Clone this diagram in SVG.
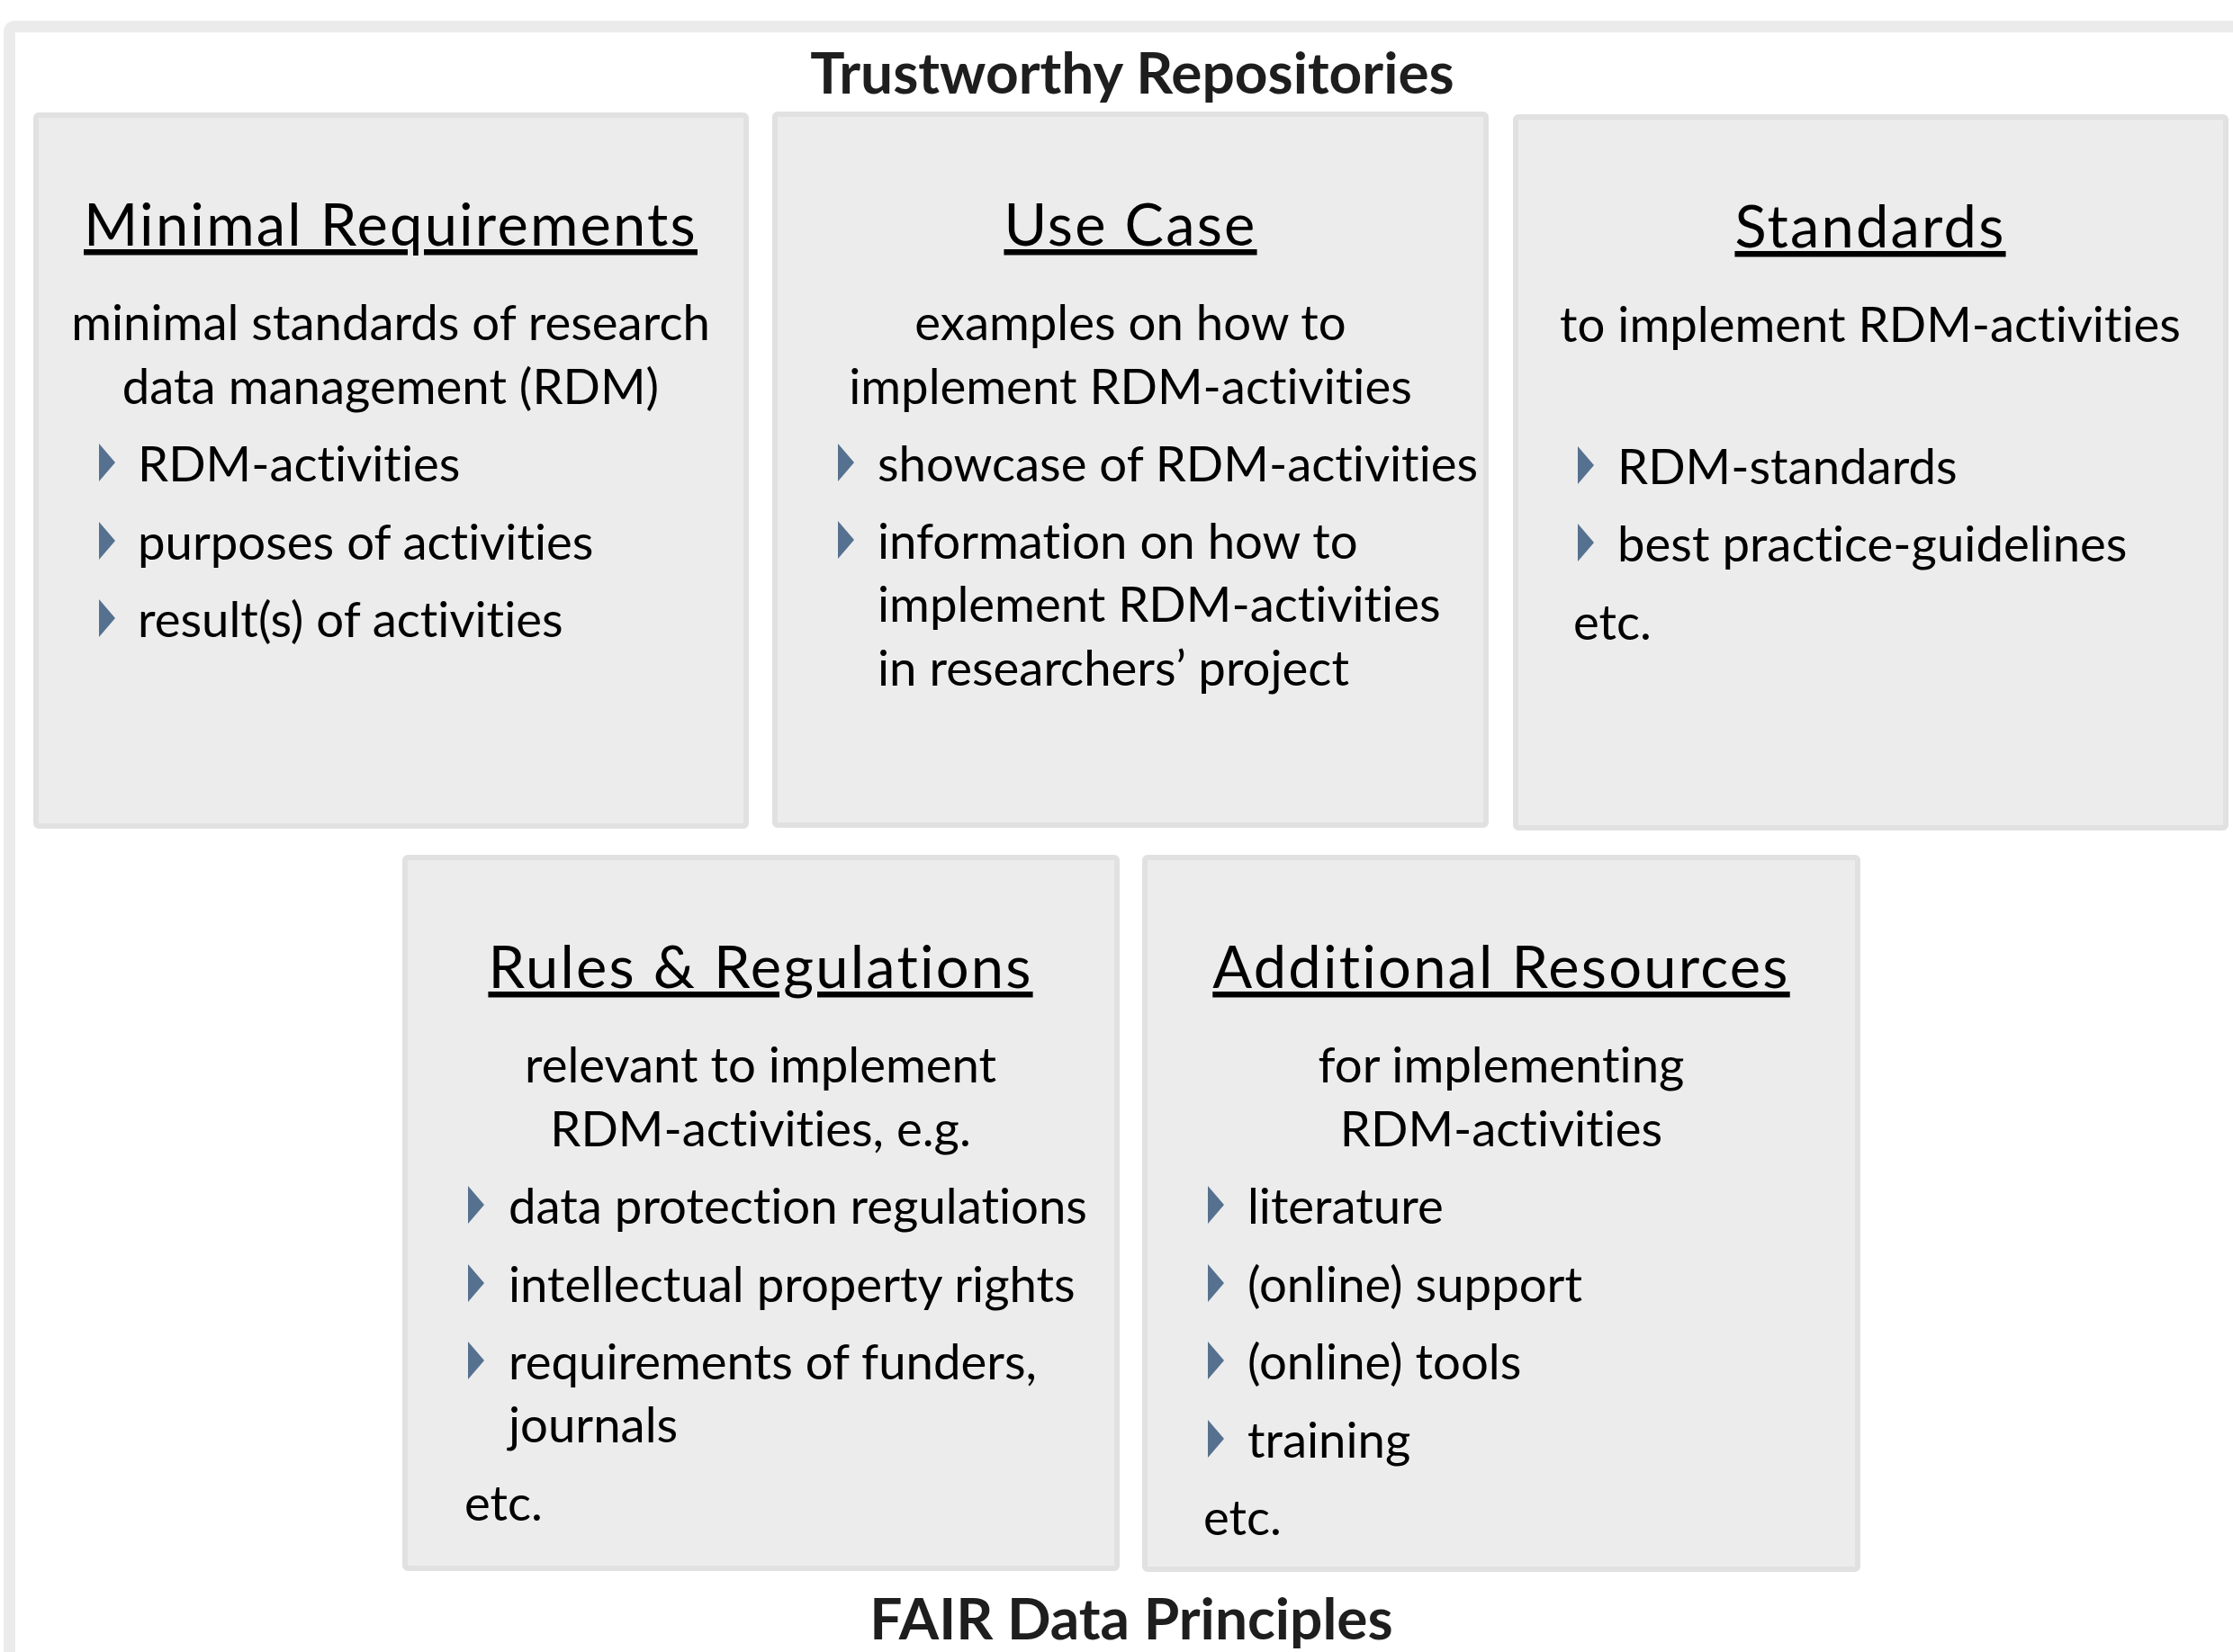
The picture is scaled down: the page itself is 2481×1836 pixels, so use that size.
<svg xmlns="http://www.w3.org/2000/svg" width="2481" height="1836" viewBox="0 0 2481 1836">
<defs>
<style>
.box{fill:#ececec;stroke:#e1e1e1;stroke-width:6}
.frame{fill:none;stroke:#ebebeb;stroke-width:13}
text{font-family:Lato,"Open Sans","Liberation Sans",sans-serif;fill:#000;font-variant-ligatures:none}
.head{font-size:65px;text-anchor:middle;text-decoration:underline;letter-spacing:2.2px}
.body{font-size:54.5px}
.c{text-anchor:middle}
.title{font-size:64px;font-weight:bold;text-anchor:middle;fill:#1e1e1e}
.bul{fill:#56718f}
</style>
<polygon id="tri" points="0,-42 18,-21 0,0"/>
</defs>
<rect width="2481" height="1836" fill="#fff"/>
<path class="frame" d="M10.5 1836 V36 Q10.5 29.5 17 29.5 H2481"/>
<text class="title" x="1258" y="104">Trustworthy Repositories</text>
<text class="title" x="1257" y="1822">FAIR Data Principles</text>

<g id="minimal-requirements">
<rect class="box" x="40" y="128" width="789" height="790" rx="3"/>
<text class="head" x="434" y="273">Minimal Requirements</text>
<text class="body c" x="434" y="378">minimal standards of research</text>
<text class="body c" x="434" y="449">data management (RDM)</text>
<use href="#tri" class="bul" x="110" y="535"/>
<text class="body" x="153" y="535">RDM-activities</text>
<use href="#tri" class="bul" x="110" y="622"/>
<text class="body" x="153" y="622">purposes of activities</text>
<use href="#tri" class="bul" x="110" y="708"/>
<text class="body" x="153" y="708">result(s) of activities</text>
</g>

<g id="use-case">
<rect class="box" x="861" y="127" width="790" height="790" rx="3"/>
<text class="head" x="1256" y="273">Use Case</text>
<text class="body c" x="1256" y="378">examples on how to</text>
<text class="body c" x="1256" y="449">implement RDM-activities</text>
<use href="#tri" class="bul" x="931" y="535"/>
<text class="body" x="975" y="535">showcase of RDM-activities</text>
<use href="#tri" class="bul" x="931" y="621"/>
<text class="body" x="975" y="621">information on how to</text>
<text class="body" x="975" y="691">implement RDM-activities</text>
<text class="body" x="975" y="762">in researchers’ project</text>
</g>

<g id="standards">
<rect class="box" x="1684" y="130" width="789" height="790" rx="3"/>
<text class="head" x="2078" y="275">Standards</text>
<text class="body c" x="2078" y="380">to implement RDM-activities</text>
<use href="#tri" class="bul" x="1753" y="538"/>
<text class="body" x="1797" y="538">RDM-standards</text>
<use href="#tri" class="bul" x="1753" y="624"/>
<text class="body" x="1797" y="624">best practice-guidelines</text>
<text class="body" x="1748" y="711">etc.</text>
</g>

<g id="rules-regulations">
<rect class="box" x="450" y="953" width="791" height="790" rx="3"/>
<text class="head" x="845" y="1098">Rules &amp; Regulations</text>
<text class="body c" x="845" y="1203">relevant to implement</text>
<text class="body c" x="845" y="1274">RDM-activities, e.g.</text>
<use href="#tri" class="bul" x="520" y="1360"/>
<text class="body" x="565" y="1360">data protection regulations</text>
<use href="#tri" class="bul" x="520" y="1447"/>
<text class="body" x="565" y="1447">intellectual property rights</text>
<use href="#tri" class="bul" x="520" y="1533"/>
<text class="body" x="565" y="1533">requirements of funders,</text>
<text class="body" x="565" y="1603">journals</text>
<text class="body" x="516" y="1690">etc.</text>
</g>

<g id="additional-resources">
<rect class="box" x="1272" y="953" width="792" height="791" rx="3"/>
<text class="head" x="1668" y="1098">Additional Resources</text>
<text class="body c" x="1668" y="1203">for implementing</text>
<text class="body c" x="1668" y="1274">RDM-activities</text>
<use href="#tri" class="bul" x="1342" y="1360"/>
<text class="body" x="1386" y="1360">literature</text>
<use href="#tri" class="bul" x="1342" y="1447"/>
<text class="body" x="1386" y="1447">(online) support</text>
<use href="#tri" class="bul" x="1342" y="1533"/>
<text class="body" x="1386" y="1533">(online) tools</text>
<use href="#tri" class="bul" x="1342" y="1620"/>
<text class="body" x="1386" y="1620">training</text>
<text class="body" x="1337" y="1706">etc.</text>
</g>
<g id="connectors"/>
</svg>
